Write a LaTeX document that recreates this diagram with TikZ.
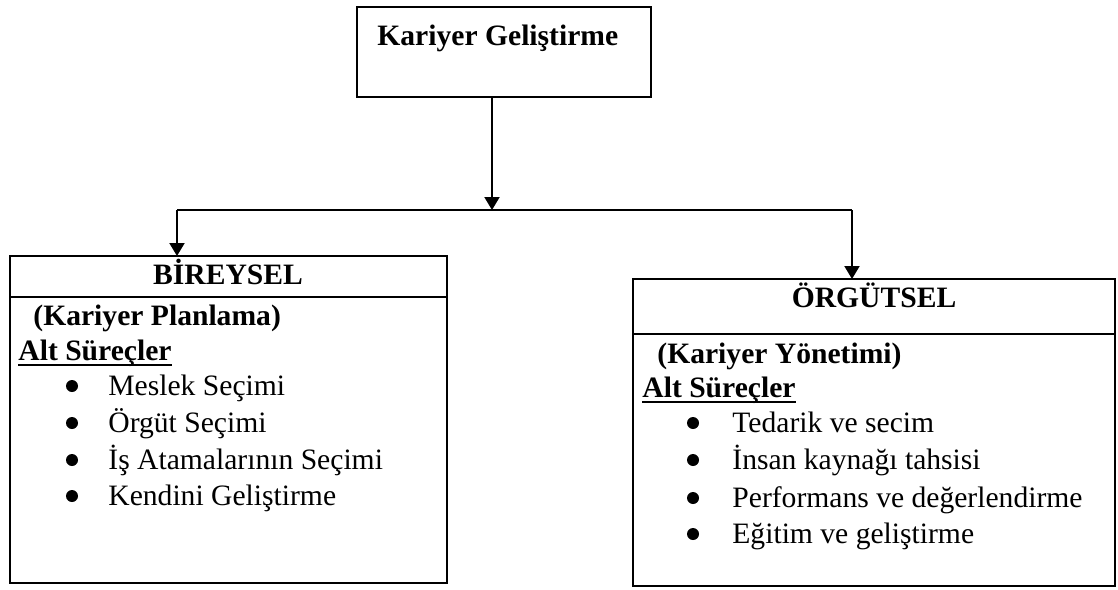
\documentclass[tikz,border=0pt]{standalone}
\usepackage{fontspec}
\setmainfont{Liberation Serif}
\usetikzlibrary{arrows.meta}
\begin{document}
\begin{tikzpicture}[x=0.5pt,y=-0.5pt,
  every node/.style={font=\fontsize{14.8pt}{17pt}\selectfont},
  frame/.style={draw, line width=1pt, inner sep=0pt, outer sep=0pt, rectangle},
  txt/.style={anchor=base west, inner sep=0pt},
  ctr/.style={anchor=base, inner sep=0pt},
  dot/.style={circle, fill=black, inner sep=0pt, minimum size=6pt},
  bold/.style={font=\fontsize{14.8pt}{17pt}\selectfont\bfseries},
  conn/.style={line width=1pt},
  arr/.style={line width=1pt, -{Triangle[width=7.5pt,length=6.5pt]}}]
\useasboundingbox (0,0) rectangle (1118,589);

% boxes
\node[frame, minimum width=147pt, minimum height=45pt] (top) at (504,52) {};
\node[frame, minimum width=218.5pt, minimum height=163.5pt] (L) at (228.5,419.5) {};
\node[frame, minimum width=241pt, minimum height=153.5pt] (R) at (874,432.5) {};

% header dividers
\coordinate (dL) at (0,297);
\coordinate (dR) at (0,334);
\draw[line width=1pt] (L.west |- dL) -- (L.east |- dL);
\draw[line width=1pt] (R.west |- dR) -- (R.east |- dR);

% connectors
\coordinate (j) at (492,210);
\coordinate (hl) at (177,210);
\coordinate (hr) at (852,210);
\draw[arr] (j |- top.south) -- (j);
\draw[conn] (hl) -- (hr);
\draw[arr] (hl) -- (hl |- L.north);
\draw[arr] (hr) -- (hr |- R.north);

% top title
\node[txt, bold] (tt) at (377,45) {Kariyer Geliştirme};

% left box text
\node[ctr, bold] (lh) at (228,284) {BİREYSEL};
\node[txt, bold] (lp) at (33,325) {(Kariyer Planlama)};
\node[txt, bold] (la) at (18,360) {Alt Süreçler};
\draw[line width=1pt] ([yshift=-2.6pt]la.base west) -- ([yshift=-2.6pt]la.base east);
\foreach \y/\t [count=\i] in {395/Meslek Seçimi, 432/Örgüt Seçimi, 469/İş Atamalarının Seçimi, 505/Kendini Geliştirme} {
  \node[dot] (lb\i) at (72,\y-9) {};
  \node[txt] (li\i) at (108,\y) {\t};
}

% right box text
\node[ctr, bold] (rh) at (874,307) {ÖRGÜTSEL};
\node[txt, bold] (rp) at (657,363) {(Kariyer Yönetimi)};
\node[txt, bold] (ra) at (642,397) {Alt Süreçler};
\draw[line width=1pt] ([yshift=-2.6pt]ra.base west) -- ([yshift=-2.6pt]ra.base east);
\foreach \y/\t [count=\i] in {432/Tedarik ve secim, 469/İnsan kaynağı tahsisi, 507/Performans ve değerlendirme, 543/Eğitim ve geliştirme} {
  \node[dot] (rb\i) at (693,\y-9) {};
  \node[txt] (ri\i) at (732,\y) {\t};
}
\end{tikzpicture}
\end{document}
